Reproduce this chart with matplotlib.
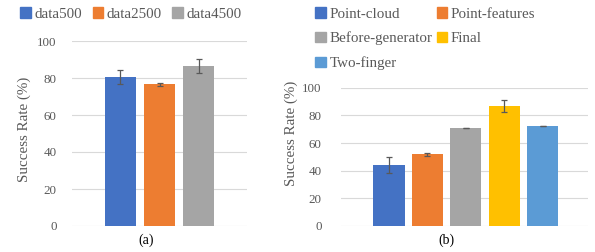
import matplotlib
matplotlib.use("Agg")
import matplotlib.pyplot as plt
from matplotlib.patches import Patch

plt.rcParams['font.family'] = ['Liberation Serif', 'DejaVu Serif']

labels_a = ["data500", "data2500", "data4500"]
values_a = [80.5, 76.6, 86.5]
errors_a = [4.0, 0.7, 3.8]
colors_a = ["#4472C4", "#ED7D31", "#A5A5A5"]

labels_b = ["Point-cloud", "Point-features", "Before-generator", "Final", "Two-finger"]
values_b = [44.1, 51.8, 70.8, 86.8, 72.2]
errors_b = [5.8, 0.9, 0.3, 4.2, 0.2]
colors_b = ["#4472C4", "#ED7D31", "#A5A5A5", "#FFC000", "#5B9BD5"]

yticks = [0, 20, 40, 60, 80, 100]
txt = "#595959"
fs_tick = 9.4
fs_leg = 10.8
fs_lab = 10.8
fs_cap = 10.0

fig = plt.figure(figsize=(5.95, 2.52), dpi=100)

def style(ax, pad, lx, ly):
    ax.set_ylim(0, 100)
    ax.set_yticks(yticks)
    ax.set_xticks([])
    for s in ax.spines.values():
        s.set_visible(False)
    ax.grid(axis='y', color='#d9d9d9', linewidth=0.8)
    ax.set_axisbelow(True)
    ax.tick_params(axis='y', length=0, colors=txt, labelsize=fs_tick, pad=pad)
    ax.set_ylabel("Success Rate (%)", color=txt, fontsize=fs_lab)
    ax.yaxis.set_label_coords(lx, ly)

ax1 = fig.add_axes([72/595, 26/252, 175/595, 185/252])
x1 = list(range(len(values_a)))
ax1.bar(x1, values_a, width=0.79, color=colors_a, zorder=2)
ax1.errorbar(x1, values_a, yerr=errors_a, fmt='none', ecolor='#595959',
             elinewidth=0.9, capsize=2.5, capthick=0.9, zorder=3)
ax1.set_xlim(-1.24, 3.24)
style(ax1, 11, -0.235, 0.52)
h1 = [Patch(color=c) for c in colors_a]
fig.legend(h1, labels_a, loc='center', bbox_to_anchor=(131/595, 1 - 14/252),
           ncol=3, frameon=False, handlelength=0.7, handleheight=0.7,
           handletextpad=0.25, columnspacing=0.7, fontsize=fs_leg,
           labelcolor=txt, borderaxespad=0, borderpad=0)

ax2 = fig.add_axes([341/595, 26/252, 247/595, 138.3/252])
x2 = list(range(len(values_b)))
ax2.bar(x2, values_b, width=0.81, color=colors_b, zorder=2)
ax2.errorbar(x2, values_b, yerr=errors_b, fmt='none', ecolor='#595959',
             elinewidth=0.9, capsize=2.5, capthick=0.9, zorder=3)
ax2.set_xlim(-1.25, 5.18)
style(ax2, 14, -0.175, 0.67)
order = [0, 2, 4, 1, 3]
h2 = [Patch(color=colors_b[i]) for i in order]
l2 = [labels_b[i] for i in order]
fig.legend(h2, l2, loc='upper left', bbox_to_anchor=(315/595, 1 - 7/252),
           ncol=2, frameon=False, handlelength=0.7, handleheight=0.7,
           handletextpad=0.25, columnspacing=0.3, labelspacing=0.74,
           fontsize=fs_leg, labelcolor=txt, borderaxespad=0, borderpad=0)

fig.text(146/595, 1 - 240/252, "(a)", ha='center', va='center', fontsize=fs_cap, color='black')
fig.text(446/595, 1 - 240/252, "(b)", ha='center', va='center', fontsize=fs_cap, color='black')

fig.savefig("out.png", dpi=100)
